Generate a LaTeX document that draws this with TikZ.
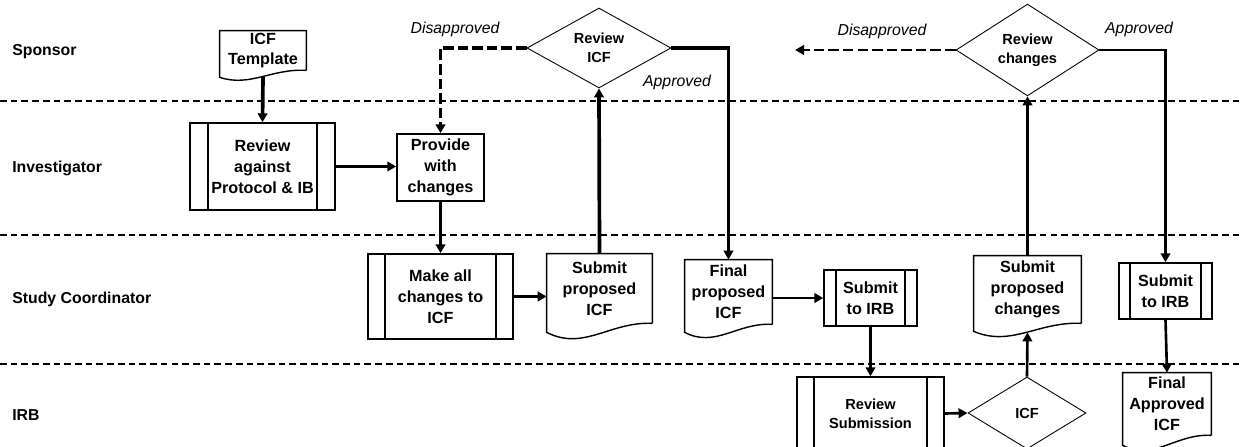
\documentclass[tikz,border=0pt]{standalone}
\usepackage{fontspec}
\setmainfont{Liberation Sans}
\usetikzlibrary{shapes.geometric,arrows.meta,calc}

\tikzset{
  lane/.style={font=\bfseries\fontsize{9}{11}\selectfont, anchor=base west, inner sep=0pt},
  note/.style={font=\itshape\fontsize{9}{11}\selectfont, inner sep=0pt},
  procbox/.style={draw, line width=0.8pt, rectangle, align=center, inner sep=0pt,
    font=\bfseries\fontsize{9.2}{11.9}\selectfont},
  subproc/.style={procbox, path picture={
      \draw[line width=0.8pt] ([xshift=#1]path picture bounding box.north west)
        -- ([xshift=#1]path picture bounding box.south west);
      \draw[line width=0.8pt] ([xshift=-#1]path picture bounding box.north east)
        -- ([xshift=-#1]path picture bounding box.south east);}},
  docbox/.style={rectangle, align=center, inner sep=0pt,
    font=\bfseries\fontsize{9.2}{11.9}\selectfont},
  decision/.style={diamond, draw, line width=0.5pt, inner sep=0pt, align=center,
    font=\bfseries\fontsize{8.3}{10.8}\selectfont},
  lanesep/.style={line width=0.6pt, dash pattern=on 3.8pt off 2.3pt},
  flow/.style={line width=1.5pt, -{Triangle[length=1.8mm,width=1.9mm]}},
  heavyflow/.style={flow, line width=2.1pt},
  backflow/.style={heavyflow, dash pattern=on 6pt off 2.3pt},
}
% document shape: outline drawn around a docbox node
\newcommand{\docoutline}[3]{%
  \draw[line width=0.8pt] (#1.south east) -- (#1.north east) -- (#1.north west)
    -- ($(#1.south west)+(0,#2)$)
    .. controls ($(#1.south west)!0.35!(#1.south east)+(0,#3)$)
    and ($(#1.south west)!0.6!(#1.south east)+(0,-2)$) .. (#1.south east);}

\begin{document}
\begin{tikzpicture}[x=0.2mm, y=-0.2mm]
    \useasboundingbox (0,0) rectangle (1241,447);
    % Draw lanes
    \draw[lanesep] (0,101) -- (1241,101);
    \draw[lanesep] (0,235) -- (1241,235);
    \draw[lanesep] (0,364) -- (1241,364);
    \node[lane] (sponsor) at (12,56) {Sponsor};
    \node[lane] (investigator) at (12,173) {Investigator};
    \node[lane] (coordinator) at (12,304) {Study Coordinator};
    \node[lane] (irb) at (12,421) {IRB};

    % Draw steps
    \node[docbox, minimum width=17.2mm, minimum height=7.8mm] (template) at (263,50.5) {ICF\\Template};
    \docoutline{template}{7}{17}
    \node[subproc=3.6mm, minimum width=29mm, minimum height=17.4mm] (review) at (262.5,166.5)
        {Review\\against\\Protocol \& IB};
    \node[procbox, minimum width=17.4mm, minimum height=13.4mm] (provide) at (440.5,167.5)
        {Provide\\with\\changes};
    \node[decision, minimum width=28.8mm, minimum height=14.8mm] (reviewicf) at (599,48) {Review\\ICF};
    \node[subproc=3.4mm, minimum width=29mm, minimum height=17mm] (make) at (440.5,296.5)
        {Make all\\changes to\\ICF};
    \node[docbox, minimum width=21mm, minimum height=13.8mm] (submit) at (599.5,288.5)
        {Submit\\proposed\\ICF};
    \docoutline{submit}{9}{28}
    \node[docbox, minimum width=17.4mm, minimum height=12.8mm] (final) at (728.5,292)
        {Final\\proposed\\ICF};
    \docoutline{final}{8}{24}
    \node[subproc=2.4mm, minimum width=18.6mm, minimum height=11.2mm] (irbone) at (870.5,298)
        {Submit\\to IRB};
    \node[subproc=3.4mm, minimum width=29.4mm, minimum height=14.6mm,
        font=\bfseries\fontsize{8.3}{10.8}\selectfont] (revsub) at (870.5,413.5) {Review\\Submission};
    \node[decision, minimum width=23.6mm, minimum height=14.4mm] (icf) at (1027,413) {ICF};
    \node[docbox, minimum width=21.4mm, minimum height=13.4mm] (propchg) at (1027.5,289.5)
        {Submit\\proposed\\changes};
    \docoutline{propchg}{8}{24}
    \node[decision, minimum width=28.6mm, minimum height=15.2mm] (revchg) at (1027.5,50) {Review\\changes};
    \node[subproc=2.2mm, minimum width=18.6mm, minimum height=11.2mm] (irbtwo) at (1165.5,291)
        {Submit\\to IRB};
    \node[docbox, minimum width=17.6mm, minimum height=12.4mm] (approved) at (1167,404)
        {Final\\Approved\\ICF};
    \docoutline{approved}{10}{26}

    % Draw decision labels
    \node[note] (disicf) at (455,29) {Disapproved};
    \node[note] (appicf) at (677,82) {Approved};
    \node[note] (dischg) at (882,31) {Disapproved};
    \node[note] (appchg) at (1139,29) {Approved};
    \coordinate (back) at (795,50);

    % Draw flows
    \draw[heavyflow] ([yshift=-1.3mm]template.south) -- (review.north);
    \draw[flow] (review.east) -- (review.east -| provide.west);
    \draw[flow] (provide.south) -- (make.north);
    \draw[heavyflow] (make.east) -- (make.east -| submit.west);
    \draw[heavyflow] (submit.north) -- (reviewicf.south);
    \draw[backflow] (reviewicf.west) -| (provide.north);
    \draw[heavyflow] (reviewicf.east) -| (final.north);
    \draw[flow] (final.east |- irbone.west) -- (irbone.west);
    \draw[flow] (irbone.south) -- (revsub.north);
    \draw[flow] (revsub.east) -- (icf.west);
    \draw[flow] (icf.north) -- ([yshift=-1.8mm]propchg.south);
    \draw[flow] (propchg.north) -- (revchg.south);
    \draw[backflow, line width=1.5pt] (revchg.west) -- (back);
    \draw[flow] (revchg.east) -| (irbtwo.north);
    \draw[flow] (irbtwo.south) -- (approved.north);
\end{tikzpicture}
\end{document}
